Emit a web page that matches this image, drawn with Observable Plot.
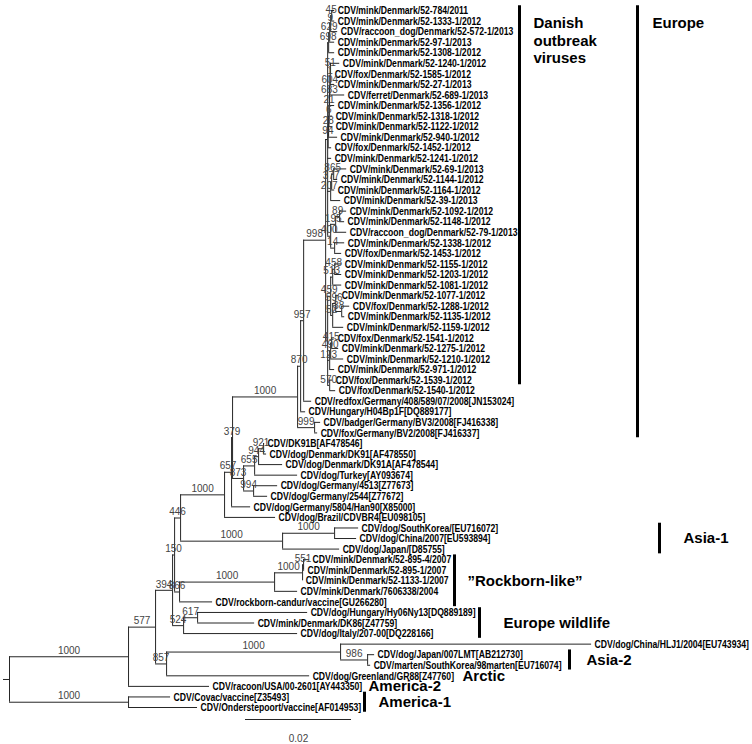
<!DOCTYPE html>
<html><head><meta charset="utf-8">
<script src="https://cdn.jsdelivr.net/npm/d3@7"></script>
<script src="https://cdn.jsdelivr.net/npm/@observablehq/plot@0.6"></script>
<style>
body{margin:0;background:#fff;}
#chart{width:752px;height:744px;}
</style></head><body><div id="chart"></div>
<script>
// ---------- DATA ----------
// Leaves, top to bottom
const leafLabels = [
"CDV/mink/Denmark/52-784/2011","CDV/mink/Denmark/52-1333-1/2012","CDV/raccoon_dog/Denmark/52-572-1/2013",
"CDV/mink/Denmark/52-97-1/2013","CDV/mink/Denmark/52-1308-1/2012","CDV/mink/Denmark/52-1240-1/2012",
"CDV/fox/Denmark/52-1585-1/2012","CDV/mink/Denmark/52-27-1/2013","CDV/ferret/Denmark/52-689-1/2013",
"CDV/mink/Denmark/52-1356-1/2012","CDV/mink/Denmark/52-1318-1/2012","CDV/mink/Denmark/52-1122-1/2012",
"CDV/mink/Denmark/52-940-1/2012","CDV/fox/Denmark/52-1452-1/2012","CDV/mink/Denmark/52-1241-1/2012",
"CDV/mink/Denmark/52-69-1/2013","CDV/mink/Denmark/52-1144-1/2012","CDV/mink/Denmark/52-1164-1/2012",
"CDV/mink/Denmark/52-39-1/2013","CDV/mink/Denmark/52-1092-1/2012","CDV/mink/Denmark/52-1148-1/2012",
"CDV/raccoon_dog/Denmark/52-79-1/2013","CDV/mink/Denmark/52-1338-1/2012","CDV/fox/Denmark/52-1453-1/2012",
"CDV/mink/Denmark/52-1155-1/2012","CDV/mink/Denmark/52-1203-1/2012","CDV/mink/Denmark/52-1081-1/2012",
"CDV/mink/Denmark/52-1077-1/2012","CDV/fox/Denmark/52-1288-1/2012","CDV/mink/Denmark/52-1135-1/2012",
"CDV/mink/Denmark/52-1159-1/2012","CDV/fox/Denmark/52-1541-1/2012","CDV/mink/Denmark/52-1275-1/2012",
"CDV/mink/Denmark/52-1210-1/2012","CDV/mink/Denmark/52-971-1/2012","CDV/fox/Denmark/52-1539-1/2012",
"CDV/fox/Denmark/52-1540-1/2012","CDV/redfox/Germany/408/589/07/2008[JN153024]","CDV/Hungary/H04Bp1F[DQ889177]",
"CDV/badger/Germany/BV3/2008[FJ416338]","CDV/fox/Germany/BV2/2008[FJ416337]","CDV/DK91B[AF478546]",
"CDV/dog/Denmark/DK91[AF478550]","CDV/dog/Denmark/DK91A[AF478544]","CDV/dog/Turkey[AY093674]",
"CDV/dog/Germany/4513[Z77673]","CDV/dog/Germany/2544[Z77672]","CDV/dog/Germany/5804/Han90[X85000]",
"CDV/dog/Brazil/CDVBR4[EU098105]","CDV/dog/SouthKorea/[EU716072]","CDV/dog/China/2007[EU593894]",
"CDV/dog/Japan/[D85755]","CDV/mink/Denmark/52-895-4/2007","CDV/mink/Denmark/52-895-1/2007",
"CDV/mink/Denmark/52-1133-1/2007","CDV/mink/Denmark/7606338/2004","CDV/rockborn-candur/vaccine[GU266280]",
"CDV/dog/Hungary/Hy06Ny13[DQ889189]","CDV/mink/Denmark/DK86[Z47759]","CDV/dog/Italy/207-00[DQ228166]",
"CDV/dog/China/HLJ1/2004[EU743934]","CDV/dog/Japan/007LMT[AB212730]","CDV/marten/SouthKorea/98marten[EU716074]",
"CDV/dog/Greenland/GR88[Z47760]","CDV/racoon/USA/00-2601[AY443350]","CDV/Covac/vaccine[Z35493]",
"CDV/Onderstepoort/vaccine[AF014953]"
];
const leafParent = [
"n45","n45","n9","n629","n698","n51","n51","n1","n604","n683","n21","n6","n28","n94","nA",
"n865","n865","n377","n207","n89","n89","n195","n14","n14","n458","n458","n513","n596","n38","n38",
"n52","n415","n415","n490","n123","n570","n570","N957","N870","N999","N999","N921","N921","N944",
"N655","N994","N994","N657","N224","N334","N334","Asia1","R","R","Q","P","N866","N617","N617",
"N524","F","G","G","E","A","B","B"
];
// branch lengths, in units of 1e-4 substitutions/site
const leafBranch = [
5.7,5.7,13.2,9.4,11.3,17.4,2.3,8.5,27.9,9.6,6.4,7.0,17.0,6.6,7.5,
24.5,7.5,5.7,18.9,13.2,9.4,20.8,18.9,13.2,13.2,13.2,17.0,5.7,15.1,5.7,
20.8,5.7,13.2,24.5,9.4,5.7,11.3,15.1,9.4,11.3,5.7,1.9,5.7,45.3,
81.1,45.3,26.4,35.9,96.2,45.3,41.5,107.6,11.3,1.9,0.2,43.4,62.3,207.6,107.6,
215.1,473.6,13.2,5.7,269.9,152.8,79.3,130.2
];
// internal nodes
const nodeIds = ["root","A","B","C","E","F","G","D","N524","N617","N150","N446","N866","P","Q","R",
"N224","N657","N379","Asia1","N334","Neu","N870","N957","N998","N999","N873","N655","N944","N921","N994",
"nA","nB","n698","n629","n9","n45","n94","n28","n6","n21","n683","n604","n1","n51",
"n207","n377","n865","n400","n195","n89","n14","n459","n513","n458","n52","n596","n38","n123","n490","n415","n570"];
const nodeParent = ["","root","root","A","C","E","F","C","D","N524","D","N150","N150","N866","P","Q",
"N446","N224","N657","N446","Asia1","N379","Neu","N870","N957","Neu","N379","N873","N655","N944","N873",
"N998","N998","nA","n698","n629","n9","nA","n94","n28","n6","n21","n683","n604","n1",
"nA","n207","n377","nA","n400","n195","n400","nB","n459","n513","n459","n52","n596","nB","n123","n490","nB"];
const nodeBranch = [11.3,224.6,224.6,51.0,20.8,328.3,51.0,32.1,20.8,26.4,3.8,11.3,9.4,179.3,52.8,1.9,
83.0,13.2,1.9,192.5,98.1,122.7,5.7,5.7,41.5,32.1,20.8,20.8,7.5,9.4,18.9,
3.8,3.8,1.9,1.9,1.9,1.9,0.9,0.9,0.6,0.6,0.6,0.6,0.6,0.6,
5.7,1.9,3.8,5.7,9.4,7.5,7.5,5.7,3.8,3.8,3.8,5.7,11.3,3.8,1.9,1.9,3.8];
const nodeSupport = ["","1000","1000","577","857","1000","986","394","524","617","150","446","866","1000","1000","551",
"1000","657","379","1000","1000","1000","870","957","998","999","873","655","944","921","994",
"","","698","629","9","45","94","28","6","21","683","604","1","51",
"207","377","865","400","195","89","14","459","513","458","52","596","38","123","490","415","570"];

// clades (first/last leaf index)
const cladeNames = ["Danish\noutbreak\nviruses","Europe","Asia-1","\u201DRockborn-like\u201D","Europe wildlife","Asia-2","Arctic","America-2","America-1"];
const cladeFirst = [0,0,49,52,57,61,63,64,65];
const cladeLast  = [35,40,51,56,59,62,63,64,66];
const scaleBarLength = 0.02;
const scaleBarText = "0.02";

// ---------- LAYOUT (pixels) ----------
const W = 752, H = 744;
const xPx = [9, 751], xDom = [0, 1400];     // branch-length units
const yPx = [10, 707], yDom = [0, 66];      // leaf index
const cladeLayout = {
  barX:  [519, 637, 659, 454, 479, 569, null, null, 364],
  textX: [533, 652, 683, 467, 503, 586, 462, 368, 378],
  top:   [true, true, false, false, false, false, false, false, false]
};
const scaleBarPx = {x: 245, y: 719, textY: 738};
const leafCondense = 0.75;

// ---------- BUILD TREE ----------
const unit = 1e-4;
const nodes = new Map();
nodeIds.forEach((id, i) => nodes.set(id, {id, parent: nodeParent[i], len: nodeBranch[i], support: nodeSupport[i], leaf: false, children: []}));
leafLabels.forEach((lab, i) => nodes.set("L" + i, {id: "L" + i, parent: leafParent[i], len: leafBranch[i], label: lab, leaf: true, index: i, children: []}));
for (const n of nodes.values()) if (n.parent) nodes.get(n.parent).children.push(n);
const root = nodes.get("root");
(function setX(n, px) { n.px = px; n.x = px + n.len; n.children.forEach(c => setX(c, n.x)); })(root, -root.len);
(function setY(n) {
  if (n.leaf) return (n.y = n.index);
  const ys = n.children.map(setY);
  n.ymin = d3.min(ys); n.ymax = d3.max(ys);
  return (n.y = (n.ymin + n.ymax) / 2);
})(root);
const all = [...nodes.values()];
const leaves = all.filter(d => d.leaf);
const internals = all.filter(d => !d.leaf);
const supported = internals.filter(d => d.support !== "");

const xs = d3.scaleLinear(xDom, xPx), ys = d3.scaleLinear(yDom, yPx);
const clades = cladeNames.map((name, i) => ({
  name, first: cladeFirst[i], last: cladeLast[i],
  bx: cladeLayout.barX[i] == null ? null : xs.invert(cladeLayout.barX[i]),
  tx: xs.invert(cladeLayout.textX[i]), top: cladeLayout.top[i]
}));
const ext = 0.45;
const sbX = xs.invert(scaleBarPx.x);

const font = "'Liberation Sans',Arial,sans-serif";
const lineColor = "#262626";

const chart = Plot.plot({
  width: W, height: H,
  marginLeft: 0, marginRight: 0, marginTop: 0, marginBottom: 0,
  x: {domain: xDom, range: xPx, axis: null},
  y: {domain: yDom, range: yPx, axis: null},
  style: {background: "#fff", overflow: "visible", fontFamily: font},
  marks: [
    Plot.ruleY(all, {y: "y", x1: "px", x2: "x", stroke: lineColor, strokeWidth: 1}),
    Plot.ruleX(internals, {x: "x", y1: "ymin", y2: "ymax", stroke: lineColor, strokeWidth: 1}),
    Plot.text(leaves, {x: "x", y: "y", text: "label", textAnchor: "start", dx: 3, fontSize: 11.5, fontWeight: "bold", fill: "#000"}),
    Plot.text(supported, {x: d => (d.px + d.x) / 2, y: "y", text: "support", dy: -6, fontSize: 10, fill: "#444"}),
    Plot.ruleX(clades.filter(d => d.bx != null), {x: "bx", y1: d => d.first - ext, y2: d => d.last + ext, stroke: "#000", strokeWidth: 3}),
    Plot.text(clades.filter(d => d.top), {x: "tx", y: "first", text: "name", textAnchor: "start", lineAnchor: "top", dy: 5, fontSize: 15, fontWeight: "bold", lineHeight: 1.17, fill: "#000"}),
    Plot.text(clades.filter(d => !d.top), {x: "tx", y: d => (d.first + d.last) / 2, text: "name", textAnchor: "start", fontSize: 15, fontWeight: "bold", fill: "#000"}),
    Plot.ruleY([ys.invert(scaleBarPx.y)], {x1: sbX, x2: sbX + scaleBarLength / unit, stroke: lineColor, strokeWidth: 1}),
    Plot.text([scaleBarText], {x: sbX + scaleBarLength / unit / 2, y: ys.invert(scaleBarPx.textY), text: d => d, fontSize: 10, fill: "#444"})
  ]
});
document.getElementById("chart").appendChild(chart);
// condense the leaf labels (narrow bold face, as in the reference)
const leafSet = new Set(leafLabels);
chart.querySelectorAll("text").forEach(t => {
  if (!leafSet.has(t.textContent)) return;
  const w = t.getComputedTextLength();
  if (w > 0) {
    t.setAttribute("textLength", (w * leafCondense).toFixed(1));
    t.setAttribute("lengthAdjust", "spacingAndGlyphs");
  }
});
</script>
</body></html>
